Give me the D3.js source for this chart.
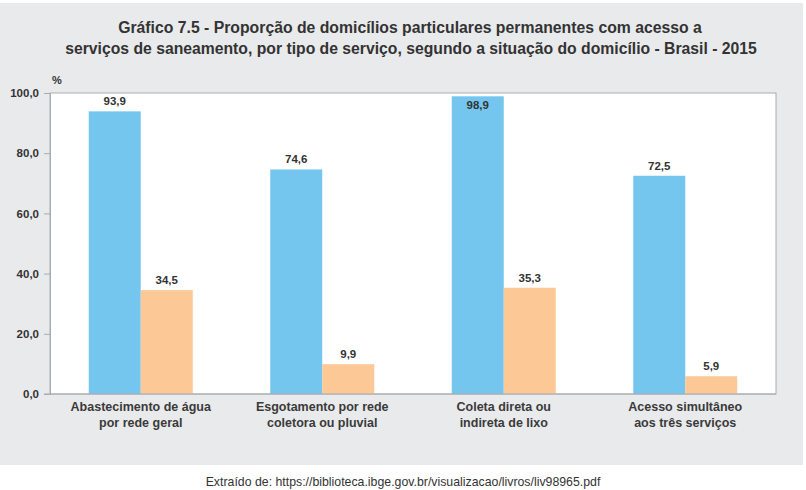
<!DOCTYPE html>
<html><head><meta charset="utf-8">
<script src="https://cdn.jsdelivr.net/npm/d3@7"></script>
<style>body{margin:0;background:#fff}svg{display:block}</style>
</head><body>
<svg id="c" width="806" height="490"></svg>
<script>
const categories = [
  ["Abastecimento de água", "por rede geral"],
  ["Esgotamento por rede", "coletora ou pluvial"],
  ["Coleta direta ou", "indireta de lixo"],
  ["Acesso simultâneo", "aos três serviços"]
];
const seriesNames = ["Urbana", "Rural"];
const urbana = [93.9, 74.6, 98.9, 72.5];
const rural = [34.5, 9.9, 35.3, 5.9];
const yTicks = [0, 20, 40, 60, 80, 100];
const titleLines = [
  "Gráfico 7.5 - Proporção de domicílios particulares permanentes com acesso a",
  "serviços de saneamento, por tipo de serviço, segundo a situação do domicílio - Brasil - 2015"
];
const sourceText = "Extraído de: https://biblioteca.ibge.gov.br/visualizacao/livros/liv98965.pdf";

const svg = d3.select("#c");
const colors = ["#74c6ef", "#fbc896"];
const textCol = "#333";
const m = {l: 50, r: 776, t: 93, b: 394};

svg.append("rect").attr("x", 0).attr("y", 3).attr("width", 803).attr("height", 462).attr("fill", "#e9eaec");

// condensed text: draw at given size then squeeze horizontally to target width
function condText(cx, cy, str, size, weight, target, fill) {
  const g = svg.append("g").attr("transform", `translate(${cx},${cy})`);
  const t = g.append("text").attr("x", 0).attr("y", 0).attr("text-anchor", "middle")
    .attr("font-family", "'Liberation Sans',Arial,sans-serif").attr("font-weight", weight)
    .attr("font-size", size).attr("fill", fill).text(str);
  const w = t.node().getComputedTextLength();
  g.attr("transform", `translate(${cx},${cy}) scale(${target / w},1)`);
  return t;
}
condText(410, 33, titleLines[0], 17, "bold", 584, textCol);
condText(411, 54, titleLines[1], 17, "bold", 692, textCol);

const x = d3.scaleBand().domain(d3.range(categories.length)).range([m.l, m.r])
  .paddingInner(1 - 104 / 181.5).paddingOuter((1 - 104 / 181.5) / 2);
const x1 = d3.scaleBand().domain(d3.range(2)).range([0, x.bandwidth()]);
const y = d3.scaleLinear().domain([0, 100]).range([m.b, m.t]);

// plot area
svg.append("rect").attr("x", m.l).attr("y", m.t).attr("width", m.r - m.l).attr("height", m.b - m.t)
  .attr("fill", "#fff").attr("stroke", "#a9abae").attr("stroke-width", 1);

// y axis
const yAxis = svg.append("g").attr("transform", `translate(${m.l},0)`)
  .call(d3.axisLeft(y).tickValues(yTicks).tickSize(6).tickPadding(5)
    .tickFormat(d => d3.format(".1f")(d).replace(".", ",")));
yAxis.select(".domain").attr("stroke", "#a9abae");
yAxis.selectAll(".tick line").attr("stroke", "#a9abae");
yAxis.selectAll("text").attr("font-family", "'Liberation Sans',Arial,sans-serif").attr("font-weight", "bold")
  .attr("font-size", 11.5).attr("fill", textCol);

svg.append("text").attr("x", 52).attr("y", 84).attr("font-family", "'Liberation Sans',Arial,sans-serif")
  .attr("font-weight", "bold").attr("font-size", 11).attr("fill", textCol).text("%");

// bars
const data = [urbana, rural];
const g = svg.append("g");
data.forEach((vals, si) => {
  g.selectAll(null).data(vals).join("rect")
    .attr("x", (d, i) => x(i) + x1(si)).attr("width", x1.bandwidth())
    .attr("y", d => y(d)).attr("height", d => y(0) - y(d)).attr("fill", colors[si]);
  g.selectAll(null).data(vals).join("text")
    .attr("x", (d, i) => x(i) + x1(si) + x1.bandwidth() / 2)
    .attr("y", d => (y(d) - m.t < 14) ? y(d) + 13 : y(d) - 6)
    .attr("text-anchor", "middle").attr("font-family", "'Liberation Sans',Arial,sans-serif")
    .attr("font-weight", "bold").attr("font-size", 11.5).attr("fill", textCol)
    .text(d => d3.format(".1f")(d).replace(".", ","));
});

// bottom axis line
svg.append("line").attr("x1", m.l - 6).attr("x2", m.r).attr("y1", m.b).attr("y2", m.b)
  .attr("stroke", "#a9abae");

// category labels
categories.forEach((lines, i) => {
  const t = svg.append("text").attr("x", x(i) + x.bandwidth() / 2).attr("text-anchor", "middle")
    .attr("font-family", "'Liberation Sans',Arial,sans-serif").attr("font-weight", "bold")
    .attr("font-size", 12.5).attr("fill", "#3a3a3a");
  lines.forEach((ln, j) => t.append("tspan").attr("x", x(i) + x.bandwidth() / 2).attr("y", 411 + j * 16).text(ln));
});

condText(403, 486, sourceText, 13, "normal", 395, "#333");
</script>
</body></html>
